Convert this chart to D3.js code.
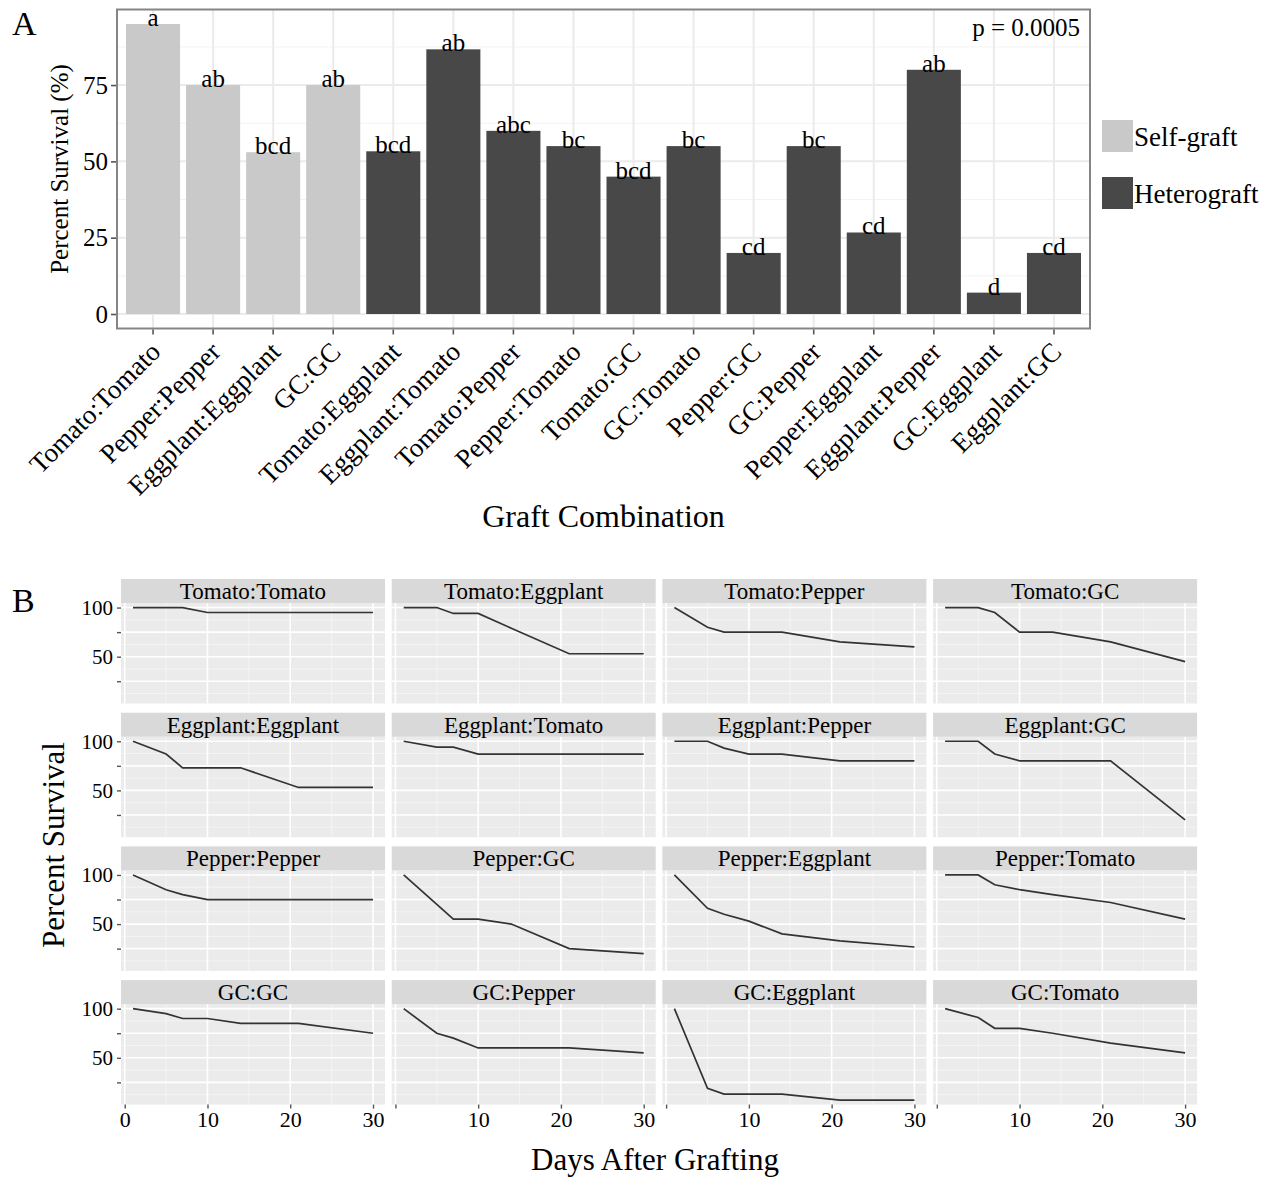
<!DOCTYPE html>
<html><head><meta charset="utf-8">
<script src="https://cdn.jsdelivr.net/npm/d3@7"></script>
<style>
body{margin:0;background:#fff}
text{font-family:"Liberation Serif","Times New Roman",serif;fill:#000}
</style></head>
<body><svg id="c" width="1271" height="1179"></svg>
<script>
// ---------- Panel A data ----------
const categories = ["Tomato:Tomato","Pepper:Pepper","Eggplant:Eggplant","GC:GC","Tomato:Eggplant","Eggplant:Tomato","Tomato:Pepper","Pepper:Tomato","Tomato:GC","GC:Tomato","Pepper:GC","GC:Pepper","Pepper:Eggplant","Eggplant:Pepper","GC:Eggplant","Eggplant:GC"];
const graftType = ["Self-graft","Self-graft","Self-graft","Self-graft","Heterograft","Heterograft","Heterograft","Heterograft","Heterograft","Heterograft","Heterograft","Heterograft","Heterograft","Heterograft","Heterograft","Heterograft"];
const survival = [95, 75, 53, 75, 53.3, 86.7, 60, 55, 45, 55, 20, 55, 26.7, 80, 7, 20];
const letters = ["a","ab","bcd","ab","bcd","ab","abc","bc","bcd","bc","cd","bc","cd","ab","d","cd"];
const yTicksA = [0, 25, 50, 75];
const legendLabels = ["Self-graft","Heterograft"];
const fillColors = ["#c9c9c9","#484848"];
const pLabel = "p = 0.0005";

// ---------- Panel B data ----------
const facetNames = ["Tomato:Tomato","Tomato:Eggplant","Tomato:Pepper","Tomato:GC",
  "Eggplant:Eggplant","Eggplant:Tomato","Eggplant:Pepper","Eggplant:GC",
  "Pepper:Pepper","Pepper:GC","Pepper:Eggplant","Pepper:Tomato",
  "GC:GC","GC:Pepper","GC:Eggplant","GC:Tomato"];
const days = [1, 5, 7, 10, 14, 21, 30];
const survivalOverTime = [
  [100,100,100,95,95,95,95],
  [100,100,94,94,79,53,53],
  [100,80,75,75,75,65,60],
  [100,100,95,75,75,65,45],
  [100,87,73,73,73,53,53],
  [100,94,94,87,87,87,87],
  [100,100,93,87,87,80,80],
  [100,100,87,80,80,80,20],
  [100,85,80,75,75,75,75],
  [100,70,55,55,50,25,20],
  [100,66,60,53,40,33,26.7],
  [100,100,90,85,80,72,55],
  [100,95,90,90,85,85,75],
  [100,75,70,60,60,60,55],
  [100,19,13,13,13,7,7],
  [100,91,80,80,75,65,55]
];
const xTicksB = [0, 10, 20, 30];
const yTicksB = [25, 50, 75, 100];
const yTickLabelsB = ["", "50", "", "100"];

const svg = d3.select("#c");
svg.append("rect").attr("width",1271).attr("height",1179).attr("fill","#fff");

// ================= PANEL A =================
const A = {l:117, r:1090, t:9.5, b:328.5};
const xA = d3.scaleBand().domain(categories).range([A.l, A.r]).paddingInner(0.1).paddingOuter(0.15);
const ymaxA = d3.max(survival);
const yA = d3.scaleLinear().domain([-0.05*ymaxA, 1.05*ymaxA]).range([A.b, A.t]);
const colorA = d3.scaleOrdinal().domain(legendLabels).range(fillColors);
const gA = svg.append("g");

// grid
const minorA = d3.range(12.5, 1.05*ymaxA, 25);
gA.selectAll(".mnA").data(minorA).join("line")
  .attr("x1",A.l).attr("x2",A.r).attr("y1",d=>yA(d)).attr("y2",d=>yA(d))
  .attr("stroke","#f3f3f3").attr("stroke-width",1);
gA.selectAll(".mjA").data(yTicksA).join("line")
  .attr("x1",A.l).attr("x2",A.r).attr("y1",d=>yA(d)).attr("y2",d=>yA(d))
  .attr("stroke","#ebebeb").attr("stroke-width",2);
gA.selectAll(".vgA").data(categories).join("line")
  .attr("x1",d=>xA(d)+xA.bandwidth()/2).attr("x2",d=>xA(d)+xA.bandwidth()/2)
  .attr("y1",A.t).attr("y2",A.b)
  .attr("stroke","#ebebeb").attr("stroke-width",2);

// bars
gA.selectAll(".bar").data(categories).join("rect")
  .attr("x",d=>xA(d)).attr("width",xA.bandwidth())
  .attr("y",(d,i)=>yA(survival[i])).attr("height",(d,i)=>yA(0)-yA(survival[i]))
  .attr("fill",(d,i)=>colorA(graftType[i]));

// letters
gA.selectAll(".let").data(categories).join("text")
  .attr("x",d=>xA(d)+xA.bandwidth()/2).attr("y",(d,i)=>yA(survival[i])+2)
  .attr("text-anchor","middle").attr("font-size",25).text((d,i)=>letters[i]);

// border
gA.append("rect").attr("x",A.l).attr("y",A.t).attr("width",A.r-A.l).attr("height",A.b-A.t)
  .attr("fill","none").attr("stroke","#858585").attr("stroke-width",2);

// p value
gA.append("text").attr("x",A.r-10).attr("y",36).attr("text-anchor","end").attr("font-size",25).text(pLabel);

// y axis
const axYA = gA.append("g").attr("transform",`translate(${A.l-1},0)`)
  .call(d3.axisLeft(yA).tickValues(yTicksA).tickSize(5).tickPadding(3));
axYA.select(".domain").remove();
axYA.selectAll("line").attr("stroke","#555").attr("stroke-width",1.6);
axYA.selectAll("text").attr("font-size",25).attr("font-family","Liberation Serif").attr("fill","#000");

// x axis
const axXA = gA.append("g").attr("transform",`translate(0,${A.b+1})`)
  .call(d3.axisBottom(xA).tickSize(5));
axXA.select(".domain").remove();
axXA.selectAll("line").attr("stroke","#555").attr("stroke-width",1.6);
axXA.selectAll("text").attr("font-size",27).attr("font-family","Liberation Serif").attr("fill","#000")
  .attr("x",0).attr("y",0).attr("dy",0).attr("text-anchor","end")
  .attr("transform","translate(9,24) rotate(-45)");

// axis titles
gA.append("text").attr("x",(A.l+A.r)/2).attr("y",527).attr("text-anchor","middle").attr("font-size",32).text("Graft Combination");
gA.append("text").attr("transform",`translate(68,${(A.t+A.b)/2}) rotate(-90)`).attr("text-anchor","middle").attr("font-size",25).text("Percent Survival (%)");
svg.append("text").attr("x",12).attr("y",35).attr("font-size",34).text("A");

// legend
const lg = svg.append("g");
legendLabels.forEach((lab,i)=>{
  const y0 = 120 + i*57;
  lg.append("rect").attr("x",1102).attr("y",y0).attr("width",31).attr("height",32).attr("fill",colorA(lab));
  lg.append("text").attr("x",1134).attr("y",y0+26).attr("font-size",27).text(lab);
});

// ================= PANEL B =================
svg.append("text").attr("x",12).attr("y",612).attr("font-size",34).text("B");
const colL = 121, colW = 264, colGap = 6.7;
const strip0 = 579, rowPitch = 133.7, stripH = 24, panelH = 100.5;
const dExt = d3.extent(days);
const dPad = 0.05*(dExt[1]-dExt[0]);
const allVals = survivalOverTime.flat();
const vExt = d3.extent(allVals);
const vPad = 0.05*(vExt[1]-vExt[0]);
const xB = d3.scaleLinear().domain([dExt[0]-dPad, dExt[1]+dPad]).range([0, colW]);
const yB = d3.scaleLinear().domain([vExt[0]-vPad, vExt[1]+vPad]).range([panelH, 0]);
const line = d3.line().x(d=>xB(d[0])).y(d=>yB(d[1]));
const xMinorB = [5, 15, 25];
const yMinorB = [12.5, 37.5, 62.5, 87.5];

facetNames.forEach((name, k)=>{
  const r = Math.floor(k/4), c = k%4;
  const x0 = colL + c*(colW+colGap);
  const st = strip0 + r*rowPitch;
  const py = st + stripH;
  const g = svg.append("g").attr("transform",`translate(${x0},${py})`);
  // strip
  svg.append("rect").attr("x",x0).attr("y",st).attr("width",colW).attr("height",stripH).attr("fill","#d9d9d9");
  svg.append("text").attr("x",x0+colW/2).attr("y",st+stripH/2+8).attr("text-anchor","middle")
    .attr("font-size",23).attr("fill","#1a1a1a").text(name);
  // panel
  g.append("rect").attr("width",colW).attr("height",panelH).attr("fill","#ebebeb");
  g.selectAll(".ymn").data(yMinorB).join("line").attr("x1",0).attr("x2",colW)
    .attr("y1",d=>yB(d)).attr("y2",d=>yB(d)).attr("stroke","#f6f6f6").attr("stroke-width",0.8);
  g.selectAll(".xmn").data(xMinorB).join("line").attr("y1",0).attr("y2",panelH)
    .attr("x1",d=>xB(d)).attr("x2",d=>xB(d)).attr("stroke","#f6f6f6").attr("stroke-width",0.8);
  g.selectAll(".ymj").data(yTicksB).join("line").attr("x1",0).attr("x2",colW)
    .attr("y1",d=>yB(d)).attr("y2",d=>yB(d)).attr("stroke","#fff").attr("stroke-width",1.6);
  g.selectAll(".xmj").data(xTicksB).join("line").attr("y1",0).attr("y2",panelH)
    .attr("x1",d=>xB(d)).attr("x2",d=>xB(d)).attr("stroke","#fff").attr("stroke-width",1.6);
  // line
  const pts = days.map((d,i)=>[d, survivalOverTime[k][i]]);
  g.append("path").attr("d",line(pts)).attr("fill","none").attr("stroke","#333").attr("stroke-width",1.7);
  // y axis on first column
  if (c===0){
    const ay = g.append("g").call(d3.axisLeft(yB).tickValues(yTicksB).tickSize(4).tickPadding(4)
      .tickFormat((d,i)=>yTickLabelsB[i]));
    ay.select(".domain").remove();
    ay.selectAll("line").attr("stroke","#555").attr("stroke-width",1.4);
    ay.selectAll("text").attr("font-size",21).attr("font-family","Liberation Serif").attr("fill","#000");
  }
  // x axis on last row
  if (r===3){
    const ax = g.append("g").attr("transform",`translate(0,${panelH})`)
      .call(d3.axisBottom(xB).tickValues(xTicksB).tickSize(4).tickPadding(3)
        .tickFormat(d=> (c===0 || d!==0) ? String(d) : ""));
    ax.select(".domain").remove();
    ax.selectAll("line").attr("stroke","#555").attr("stroke-width",1.4);
    ax.selectAll("text").attr("font-size",22).attr("font-family","Liberation Serif").attr("fill","#000");
  }
});
svg.append("text").attr("x",655).attr("y",1170).attr("text-anchor","middle").attr("font-size",31).text("Days After Grafting");
svg.append("text").attr("transform",`translate(64,845) rotate(-90)`).attr("text-anchor","middle").attr("font-size",31).text("Percent Survival");
</script></body></html>
